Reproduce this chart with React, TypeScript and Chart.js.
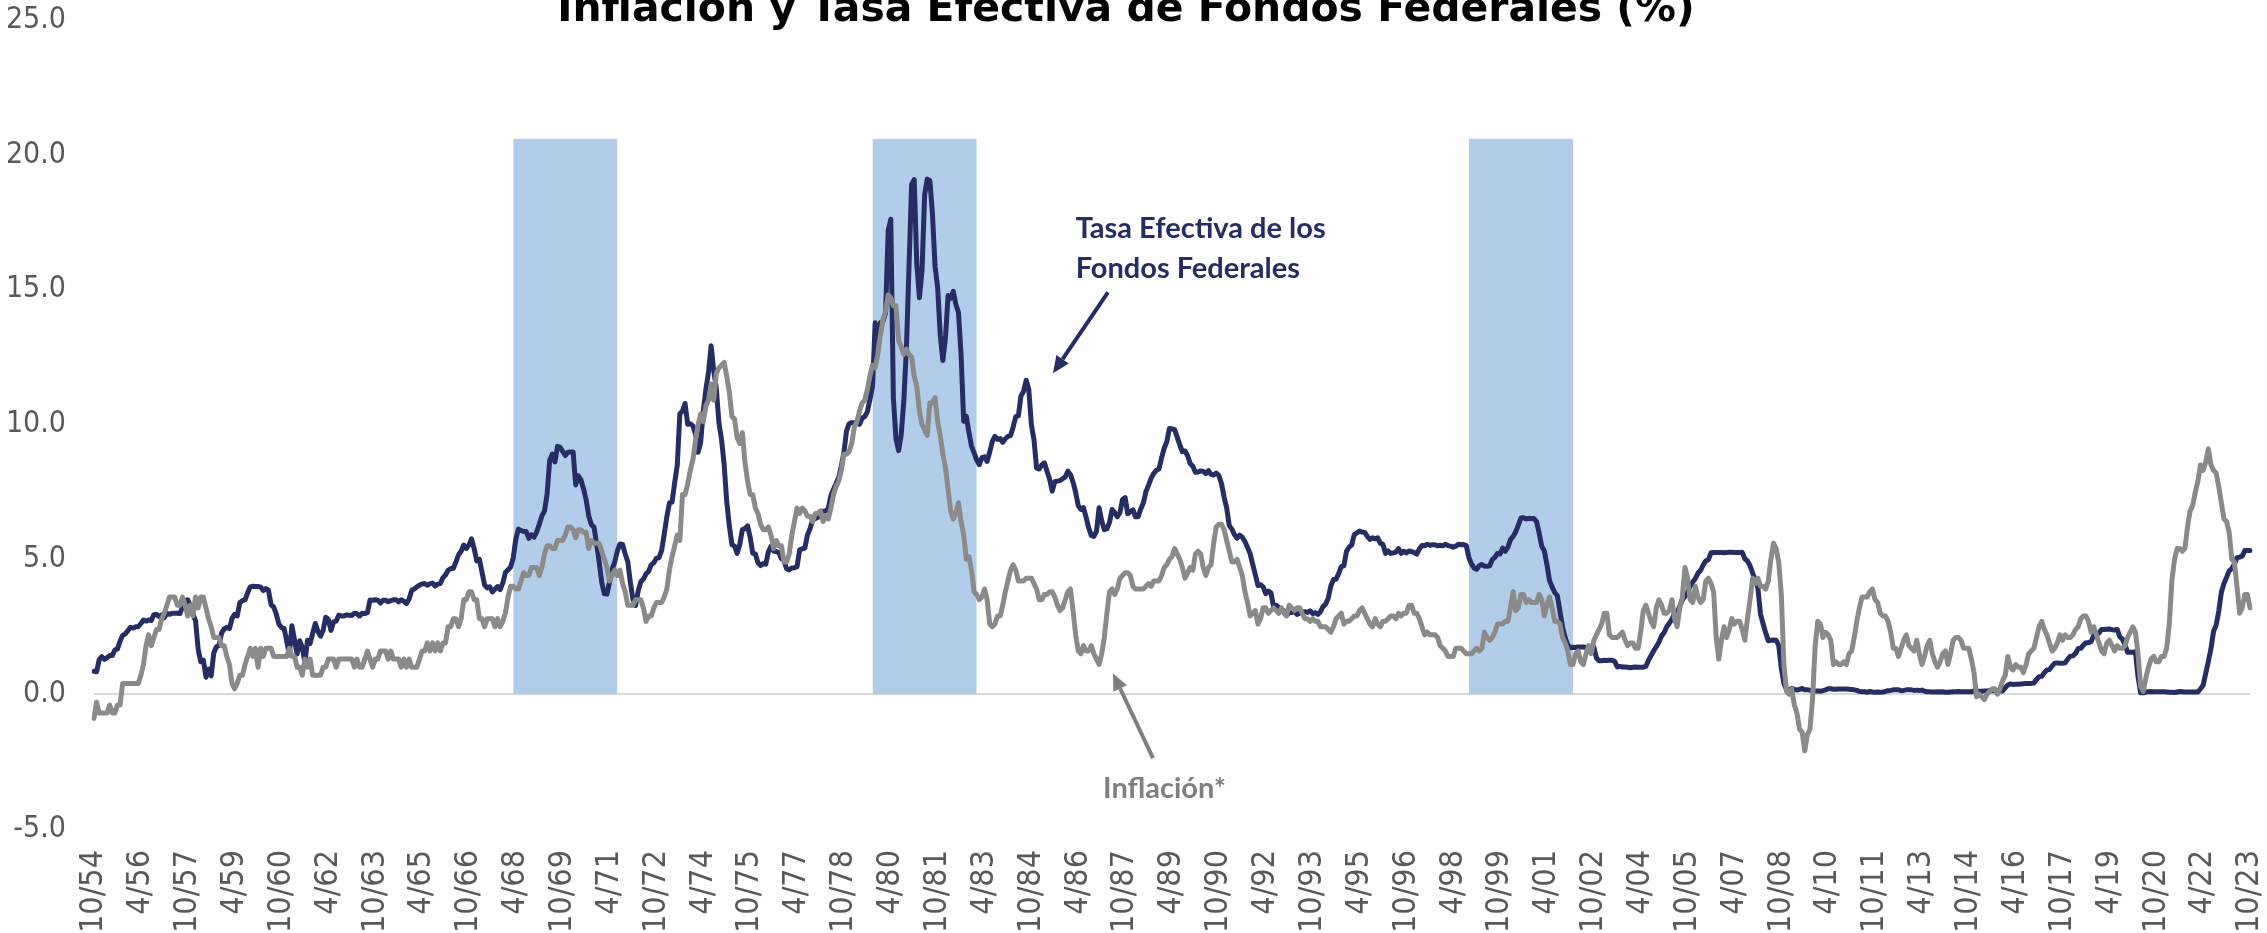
import React, { useEffect, useRef } from 'react';
import { Chart, registerables } from 'chart.js';

Chart.register(...registerables);

// ---- Data (monthly, from 10/54 to 10/23) ----
const START_YEAR = 1954;
const START_MONTH = 10;

// Tasa Efectiva de los Fondos Federales (%)
const fedFunds: number[] = [
  0.85, 0.83, 1.28, // 1954 (Oct-Dec)
  1.39, 1.29, 1.35, 1.43, 1.43, 1.64, 1.68, 1.96, 2.18, 2.24, 2.35, 2.48, // 1955
  2.45, 2.50, 2.50, 2.62, 2.75, 2.71, 2.75, 2.73, 2.95, 2.96, 2.88, 2.94, // 1956
  2.84, 3.00, 2.96, 3.00, 3.00, 3.00, 2.99, 3.24, 3.47, 3.50, 3.28, 2.98, // 1957
  2.72, 1.67, 1.20, 1.26, 0.63, 0.93, 0.68, 1.53, 1.76, 1.80, 2.27, 2.42, // 1958
  2.48, 2.43, 2.80, 2.96, 2.90, 3.39, 3.47, 3.50, 3.76, 3.98, 4.00, 3.99, // 1959
  3.99, 3.97, 3.84, 3.92, 3.85, 3.32, 3.23, 2.98, 2.60, 2.47, 2.44, 1.98, // 1960
  1.45, 2.54, 2.02, 1.49, 1.98, 1.73, 1.17, 2.00, 1.88, 2.26, 2.62, 2.33, // 1961
  2.15, 2.37, 2.85, 2.78, 2.36, 2.68, 2.71, 2.93, 2.90, 2.90, 2.94, 2.93, // 1962
  2.92, 3.00, 2.98, 2.90, 3.00, 2.99, 3.02, 3.49, 3.48, 3.50, 3.48, 3.38, // 1963
  3.48, 3.48, 3.43, 3.47, 3.50, 3.50, 3.42, 3.50, 3.45, 3.36, 3.52, 3.85, // 1964
  3.90, 3.98, 4.04, 4.09, 4.10, 4.04, 4.09, 4.12, 4.01, 4.08, 4.10, 4.32, // 1965
  4.42, 4.60, 4.65, 4.67, 4.90, 5.17, 5.30, 5.53, 5.40, 5.53, 5.76, 5.40, // 1966
  4.94, 5.00, 4.53, 4.05, 3.94, 3.98, 3.79, 3.90, 3.99, 3.88, 4.13, 4.51, // 1967
  4.61, 4.71, 5.05, 5.76, 6.12, 6.07, 6.03, 6.03, 5.78, 5.91, 5.82, 6.02, // 1968
  6.30, 6.61, 6.79, 7.41, 8.67, 8.90, 8.61, 9.19, 9.15, 9.00, 8.85, 8.97, // 1969
  8.98, 8.98, 7.76, 8.10, 7.95, 7.61, 7.21, 6.61, 6.29, 6.20, 5.60, 4.90, // 1970
  4.14, 3.72, 3.71, 4.16, 4.63, 4.91, 5.31, 5.57, 5.55, 5.20, 4.91, 4.14, // 1971
  3.50, 3.29, 3.83, 4.17, 4.27, 4.46, 4.55, 4.80, 4.87, 5.04, 5.06, 5.33, // 1972
  5.94, 6.58, 7.09, 7.12, 7.84, 8.49, 10.40, 10.50, 10.78, 10.01, 10.03, 9.95, // 1973
  9.65, 8.97, 9.35, 10.51, 11.31, 11.93, 12.92, 12.01, 11.34, 10.06, 9.45, 8.53, // 1974
  7.13, 6.24, 5.54, 5.49, 5.22, 5.55, 6.10, 6.14, 6.24, 5.82, 5.22, 5.20, // 1975
  4.87, 4.77, 4.84, 4.82, 5.29, 5.48, 5.31, 5.29, 5.25, 5.03, 4.95, 4.65, // 1976
  4.61, 4.68, 4.69, 4.73, 5.35, 5.39, 5.42, 5.90, 6.14, 6.47, 6.51, 6.56, // 1977
  6.70, 6.78, 6.79, 6.89, 7.36, 7.60, 7.81, 8.04, 8.45, 8.96, 9.76, 10.03, // 1978
  10.07, 10.06, 10.09, 10.01, 10.24, 10.29, 10.47, 10.94, 11.43, 13.77, 13.18, 13.78, // 1979
  13.82, 14.13, 17.19, 17.61, 10.98, 9.47, 9.03, 9.61, 10.87, 12.81, 15.85, 18.90, // 1980
  19.08, 15.93, 14.70, 15.72, 18.52, 19.10, 19.04, 17.82, 15.87, 15.08, 13.31, 12.37, // 1981
  13.22, 14.78, 14.68, 14.94, 14.45, 14.15, 12.59, 10.12, 10.31, 9.71, 9.20, 8.95, // 1982
  8.68, 8.51, 8.77, 8.80, 8.63, 8.98, 9.37, 9.56, 9.45, 9.48, 9.34, 9.47, // 1983
  9.56, 9.59, 9.91, 10.29, 10.32, 11.06, 11.23, 11.64, 11.30, 9.99, 9.43, 8.38, // 1984
  8.35, 8.50, 8.58, 8.27, 7.97, 7.53, 7.88, 7.90, 7.92, 7.99, 8.05, 8.27, // 1985
  8.14, 7.86, 7.48, 6.99, 6.85, 6.92, 6.56, 6.17, 5.89, 5.85, 6.04, 6.91, // 1986
  6.43, 6.10, 6.13, 6.37, 6.85, 6.73, 6.58, 6.73, 7.22, 7.29, 6.69, 6.77, // 1987
  6.83, 6.58, 6.58, 6.87, 7.09, 7.51, 7.75, 8.01, 8.19, 8.30, 8.35, 8.76, // 1988
  9.12, 9.36, 9.85, 9.84, 9.81, 9.53, 9.24, 8.99, 9.02, 8.84, 8.55, 8.45, // 1989
  8.23, 8.24, 8.28, 8.26, 8.18, 8.29, 8.15, 8.13, 8.20, 8.11, 7.81, 7.31, // 1990
  6.91, 6.25, 6.12, 5.91, 5.78, 5.90, 5.82, 5.66, 5.45, 5.21, 4.81, 4.43, // 1991
  4.03, 4.06, 3.98, 3.73, 3.82, 3.76, 3.25, 3.30, 3.22, 3.10, 3.09, 2.92, // 1992
  3.02, 3.03, 3.07, 2.96, 3.00, 3.04, 3.06, 3.03, 3.09, 2.99, 3.02, 2.96, // 1993
  3.05, 3.25, 3.34, 3.56, 4.01, 4.25, 4.26, 4.47, 4.73, 4.76, 5.29, 5.45, // 1994
  5.53, 5.92, 5.98, 6.05, 6.01, 6.00, 5.85, 5.74, 5.80, 5.76, 5.80, 5.60, // 1995
  5.56, 5.22, 5.31, 5.22, 5.24, 5.27, 5.40, 5.22, 5.30, 5.24, 5.31, 5.29, // 1996
  5.25, 5.19, 5.39, 5.51, 5.50, 5.56, 5.52, 5.54, 5.54, 5.50, 5.52, 5.50, // 1997
  5.56, 5.51, 5.49, 5.45, 5.49, 5.56, 5.54, 5.55, 5.51, 5.07, 4.83, 4.68, // 1998
  4.63, 4.76, 4.81, 4.74, 4.74, 4.76, 4.99, 5.07, 5.22, 5.20, 5.42, 5.30, // 1999
  5.45, 5.73, 5.85, 6.02, 6.27, 6.53, 6.54, 6.50, 6.52, 6.51, 6.51, 6.40, // 2000
  5.98, 5.49, 5.31, 4.80, 4.21, 3.97, 3.77, 3.65, 3.07, 2.49, 2.09, 1.82, // 2001
  1.73, 1.74, 1.73, 1.75, 1.75, 1.75, 1.73, 1.74, 1.75, 1.75, 1.34, 1.24, // 2002
  1.24, 1.26, 1.25, 1.26, 1.26, 1.22, 1.01, 1.03, 1.01, 1.01, 1.00, 0.98, // 2003
  1.00, 1.01, 1.00, 1.00, 1.00, 1.03, 1.26, 1.43, 1.61, 1.76, 1.93, 2.16, // 2004
  2.28, 2.50, 2.63, 2.79, 3.00, 3.04, 3.26, 3.50, 3.62, 3.78, 4.00, 4.16, // 2005
  4.29, 4.49, 4.59, 4.79, 4.94, 4.99, 5.24, 5.25, 5.25, 5.25, 5.25, 5.24, // 2006
  5.25, 5.26, 5.26, 5.25, 5.25, 5.25, 5.26, 5.02, 4.94, 4.76, 4.49, 4.24, // 2007
  3.94, 2.98, 2.61, 2.28, 1.98, 2.00, 2.01, 2.00, 1.81, 0.97, 0.39, 0.16, // 2008
  0.15, 0.22, 0.18, 0.15, 0.18, 0.21, 0.16, 0.16, 0.15, 0.12, 0.12, 0.12, // 2009
  0.11, 0.13, 0.16, 0.20, 0.20, 0.18, 0.18, 0.19, 0.19, 0.19, 0.19, 0.18, // 2010
  0.17, 0.16, 0.14, 0.10, 0.09, 0.09, 0.07, 0.10, 0.08, 0.07, 0.08, 0.07, // 2011
  0.08, 0.10, 0.13, 0.14, 0.16, 0.16, 0.16, 0.13, 0.14, 0.16, 0.16, 0.16, // 2012
  0.14, 0.15, 0.14, 0.15, 0.11, 0.09, 0.09, 0.08, 0.08, 0.09, 0.08, 0.09, // 2013
  0.07, 0.07, 0.08, 0.09, 0.09, 0.10, 0.09, 0.09, 0.09, 0.09, 0.09, 0.12, // 2014
  0.11, 0.11, 0.11, 0.12, 0.12, 0.13, 0.13, 0.14, 0.14, 0.12, 0.12, 0.24, // 2015
  0.34, 0.38, 0.36, 0.37, 0.37, 0.38, 0.39, 0.40, 0.40, 0.40, 0.41, 0.54, // 2016
  0.65, 0.66, 0.79, 0.90, 0.91, 1.04, 1.15, 1.16, 1.15, 1.15, 1.16, 1.30, // 2017
  1.41, 1.42, 1.51, 1.69, 1.70, 1.82, 1.91, 1.91, 1.95, 2.19, 2.20, 2.27, // 2018
  2.40, 2.40, 2.41, 2.42, 2.39, 2.38, 2.40, 2.13, 2.04, 1.83, 1.55, 1.55, // 2019
  1.55, 1.58, 0.65, 0.05, 0.05, 0.08, 0.09, 0.10, 0.09, 0.09, 0.09, 0.09, // 2020
  0.09, 0.08, 0.07, 0.07, 0.06, 0.08, 0.10, 0.09, 0.08, 0.08, 0.08, 0.08, // 2021
  0.08, 0.08, 0.20, 0.33, 0.77, 1.21, 1.68, 2.33, 2.56, 3.08, 3.78, 4.10, // 2022
  4.33, 4.57, 4.65, 4.83, 5.06, 5.08, 5.12, 5.33, 5.33, 5.33, // 2023 (Jan-Oct)
];

// Inflación* (variación anual, %)
const inflation: number[] = [
  -0.9, -0.3, -0.7, // 1954 (Oct-Dec)
  -0.7, -0.7, -0.7, -0.4, -0.7, -0.7, -0.4, -0.4, 0.4, 0.4, 0.4, 0.4, // 1955
  0.4, 0.4, 0.4, 0.7, 1.1, 1.8, 2.2, 1.8, 2.1, 2.4, 2.4, 2.8, // 1956
  3.0, 3.3, 3.6, 3.6, 3.6, 3.3, 3.3, 3.6, 3.3, 2.9, 3.3, 2.9, // 1957
  3.6, 3.2, 3.6, 3.6, 3.2, 2.8, 2.5, 2.1, 2.1, 2.1, 1.8, 1.8, // 1958
  1.4, 1.1, 0.4, 0.2, 0.4, 0.7, 0.7, 1.1, 1.4, 1.7, 1.4, 1.7, // 1959
  1.0, 1.7, 1.4, 1.7, 1.7, 1.7, 1.4, 1.4, 1.4, 1.4, 1.4, 1.4, // 1960
  1.7, 1.4, 1.4, 1.0, 1.0, 0.7, 1.3, 1.0, 1.3, 0.7, 0.7, 0.7, // 1961
  0.7, 1.0, 1.0, 1.3, 1.3, 1.3, 1.0, 1.3, 1.3, 1.3, 1.3, 1.3, // 1962
  1.3, 1.0, 1.3, 1.0, 1.0, 1.3, 1.6, 1.3, 1.0, 1.3, 1.3, 1.6, // 1963
  1.6, 1.6, 1.3, 1.6, 1.3, 1.3, 1.3, 1.0, 1.3, 1.0, 1.3, 1.0, // 1964
  1.0, 1.0, 1.3, 1.6, 1.6, 1.9, 1.6, 1.9, 1.6, 1.9, 1.6, 1.9, // 1965
  1.9, 2.5, 2.5, 2.8, 2.8, 2.5, 2.8, 3.5, 3.5, 3.8, 3.8, 3.5, // 1966
  3.5, 2.8, 2.8, 2.5, 2.8, 2.8, 2.8, 2.5, 2.8, 2.5, 2.7, 3.0, // 1967
  3.6, 4.0, 4.0, 3.9, 3.9, 4.2, 4.5, 4.4, 4.4, 4.7, 4.7, 4.7, // 1968
  4.4, 4.7, 5.2, 5.5, 5.5, 5.4, 5.4, 5.7, 5.7, 5.7, 5.9, 6.2, // 1969
  6.2, 6.1, 5.8, 6.1, 6.1, 6.0, 6.0, 5.4, 5.7, 5.6, 5.6, 5.6, // 1970
  5.3, 5.0, 4.7, 4.2, 4.4, 4.6, 4.4, 4.6, 4.1, 3.8, 3.3, 3.3, // 1971
  3.3, 3.5, 3.5, 3.5, 3.2, 2.7, 2.9, 2.9, 3.2, 3.4, 3.4, 3.4, // 1972
  3.6, 3.9, 4.6, 5.1, 5.5, 5.9, 5.7, 7.4, 7.4, 7.8, 8.3, 8.7, // 1973
  9.4, 10.0, 10.4, 10.1, 10.7, 10.9, 11.5, 10.9, 11.9, 12.1, 12.2, 12.3, // 1974
  11.8, 11.2, 10.3, 10.2, 9.5, 9.3, 9.7, 8.6, 7.9, 7.4, 7.4, 6.9, // 1975
  6.7, 6.3, 6.1, 6.1, 6.2, 5.9, 5.4, 5.7, 5.5, 5.5, 4.9, 4.9, // 1976
  5.2, 5.9, 6.4, 6.9, 6.7, 6.9, 6.8, 6.6, 6.6, 6.4, 6.7, 6.7, // 1977
  6.8, 6.4, 6.6, 6.5, 6.9, 7.4, 7.7, 7.9, 8.3, 8.9, 8.9, 9.0, // 1978
  9.3, 9.9, 10.1, 10.5, 10.8, 10.9, 11.3, 11.8, 12.2, 12.1, 12.6, 13.3, // 1979
  13.9, 14.2, 14.8, 14.7, 14.4, 14.4, 13.1, 12.9, 12.6, 12.8, 12.6, 12.5, // 1980
  11.8, 11.4, 10.5, 10.0, 9.8, 9.6, 10.8, 10.8, 11.0, 10.1, 9.6, 8.9, // 1981
  8.4, 7.6, 6.8, 6.5, 6.7, 7.1, 6.4, 5.9, 5.0, 5.1, 4.6, 3.8, // 1982
  3.7, 3.5, 3.6, 3.9, 3.5, 2.6, 2.5, 2.6, 2.9, 2.9, 3.3, 3.8, // 1983
  4.2, 4.6, 4.8, 4.6, 4.2, 4.2, 4.2, 4.3, 4.3, 4.3, 4.1, 3.9, // 1984
  3.5, 3.5, 3.7, 3.7, 3.8, 3.8, 3.6, 3.3, 3.1, 3.2, 3.5, 3.8, // 1985
  3.9, 3.1, 2.2, 1.6, 1.5, 1.8, 1.6, 1.6, 1.8, 1.5, 1.3, 1.1, // 1986
  1.5, 2.1, 3.0, 3.8, 3.9, 3.7, 3.9, 4.3, 4.4, 4.5, 4.5, 4.4, // 1987
  4.0, 3.9, 3.9, 3.9, 3.9, 4.0, 4.1, 4.0, 4.2, 4.2, 4.2, 4.4, // 1988
  4.7, 4.8, 5.0, 5.1, 5.4, 5.2, 5.0, 4.7, 4.3, 4.5, 4.7, 4.6, // 1989
  5.2, 5.3, 5.2, 4.7, 4.4, 4.7, 4.8, 5.6, 6.2, 6.3, 6.3, 6.1, // 1990
  5.7, 5.3, 4.9, 4.9, 5.0, 4.7, 4.4, 3.8, 3.4, 2.9, 3.0, 3.1, // 1991
  2.6, 2.8, 3.2, 3.2, 3.0, 3.1, 3.2, 3.1, 3.0, 3.2, 3.0, 2.9, // 1992
  3.3, 3.2, 3.1, 3.2, 3.2, 3.0, 2.8, 2.8, 2.7, 2.8, 2.7, 2.7, // 1993
  2.5, 2.5, 2.5, 2.4, 2.3, 2.5, 2.8, 2.9, 3.0, 2.6, 2.7, 2.7, // 1994
  2.8, 2.9, 2.9, 3.1, 3.2, 3.0, 2.8, 2.6, 2.5, 2.8, 2.6, 2.5, // 1995
  2.7, 2.7, 2.8, 2.9, 2.9, 2.8, 3.0, 2.9, 3.0, 3.0, 3.3, 3.3, // 1996
  3.0, 3.0, 2.8, 2.5, 2.2, 2.3, 2.2, 2.2, 2.2, 2.1, 1.8, 1.7, // 1997
  1.6, 1.4, 1.4, 1.4, 1.7, 1.7, 1.7, 1.6, 1.5, 1.5, 1.5, 1.6, // 1998
  1.7, 1.6, 1.7, 2.3, 2.1, 2.0, 2.1, 2.3, 2.6, 2.6, 2.6, 2.7, // 1999
  2.7, 3.2, 3.8, 3.1, 3.2, 3.7, 3.7, 3.4, 3.5, 3.4, 3.4, 3.4, // 2000
  3.7, 3.5, 2.9, 3.3, 3.6, 3.2, 2.7, 2.7, 2.6, 2.1, 1.9, 1.6, // 2001
  1.1, 1.1, 1.5, 1.6, 1.2, 1.1, 1.5, 1.8, 1.5, 2.0, 2.2, 2.4, // 2002
  2.6, 3.0, 3.0, 2.2, 2.1, 2.1, 2.1, 2.2, 2.3, 2.0, 1.8, 1.9, // 2003
  1.9, 1.7, 1.7, 2.3, 3.1, 3.3, 3.0, 2.7, 2.5, 3.2, 3.5, 3.3, // 2004
  3.0, 3.0, 3.1, 3.5, 2.8, 2.5, 3.2, 3.6, 4.7, 4.3, 3.5, 3.4, // 2005
  4.0, 3.6, 3.4, 3.5, 4.2, 4.3, 4.1, 3.8, 2.1, 1.3, 2.0, 2.5, // 2006
  2.1, 2.4, 2.8, 2.6, 2.7, 2.7, 2.4, 2.0, 2.8, 3.5, 4.3, 4.1, // 2007
  4.3, 4.0, 4.0, 3.9, 4.2, 5.0, 5.6, 5.4, 4.9, 3.7, 1.1, 0.1, // 2008
  0.0, 0.2, -0.4, -0.7, -1.3, -1.4, -2.1, -1.5, -1.3, -0.2, 1.8, 2.7, // 2009
  2.6, 2.1, 2.3, 2.2, 2.0, 1.1, 1.2, 1.1, 1.1, 1.2, 1.1, 1.5, // 2010
  1.6, 2.1, 2.7, 3.2, 3.6, 3.6, 3.6, 3.8, 3.9, 3.5, 3.4, 3.0, // 2011
  2.9, 2.9, 2.7, 2.3, 1.7, 1.7, 1.4, 1.7, 2.0, 2.2, 1.8, 1.7, // 2012
  1.6, 2.0, 1.5, 1.1, 1.4, 1.8, 2.0, 1.5, 1.2, 1.0, 1.2, 1.5, // 2013
  1.6, 1.1, 1.5, 2.0, 2.1, 2.1, 2.0, 1.7, 1.7, 1.7, 1.3, 0.8, // 2014
  -0.1, 0.0, -0.1, -0.2, 0.0, 0.1, 0.2, 0.2, 0.0, 0.2, 0.5, 0.7, // 2015
  1.4, 1.0, 0.9, 1.1, 1.0, 1.0, 0.8, 1.1, 1.5, 1.6, 1.7, 2.1, // 2016
  2.5, 2.7, 2.4, 2.2, 1.9, 1.6, 1.7, 1.9, 2.2, 2.0, 2.2, 2.1, // 2017
  2.1, 2.2, 2.4, 2.5, 2.8, 2.9, 2.9, 2.7, 2.3, 2.5, 2.2, 1.9, // 2018
  1.6, 1.5, 1.9, 2.0, 1.8, 1.6, 1.8, 1.7, 1.7, 1.8, 2.1, 2.3, // 2019
  2.5, 2.3, 1.5, 0.3, 0.1, 0.6, 1.0, 1.3, 1.4, 1.2, 1.2, 1.4, // 2020
  1.4, 1.7, 2.6, 4.2, 5.0, 5.4, 5.4, 5.3, 5.4, 6.2, 6.8, 7.0, // 2021
  7.5, 7.9, 8.5, 8.3, 8.6, 9.1, 8.5, 8.3, 8.2, 7.7, 7.1, 6.5, // 2022
  6.4, 6.0, 5.0, 4.9, 4.0, 3.0, 3.2, 3.7, 3.7, 3.2, // 2023 (Jan-Oct)
];

// Shaded periods (month labels, inclusive) and their height
const shadedStart: string[] = ['3/68', '9/79', '10/98'];
const shadedEnd: string[] = ['7/71', '1/83', '2/02'];
const shadedTop = 20.6;

// Axis
const yMin = -5;
const yMax = 25;
const yStep = 5;
const labelEvery = 18;

// Text
const titleText = 'Inflación y Tasa Efectiva de Fondos Federales (%)';
const ffLabelLines: string[] = ['Tasa Efectiva de los', 'Fondos Federales'];
const inflLabelLines: string[] = ['Inflación*'];

// Month labels "m/yy"
const labels: string[] = fedFunds.map((_, i) => {
  const k = START_MONTH - 1 + i;
  const m = (k % 12) + 1;
  const yr = (START_YEAR + Math.floor(k / 12)) % 100;
  return `${m}/${String(yr).padStart(2, '0')}`;
});

const bandRanges = shadedStart.map((s, j) => [labels.indexOf(s), labels.indexOf(shadedEnd[j])]);
const bandData: (number | null)[] = labels.map((_, i) =>
  bandRanges.some(([a, b]) => i >= a && i <= b) ? shadedTop : null
);

const NAVY = '#252d63';
const GRAY = '#8a8a8a';
const BAND = '#b1cde9';
const TICK_COLOR = '#595959';
const TICK_FONT = "'Liberation Sans Narrow', 'DejaVu Sans Condensed', 'Liberation Sans', sans-serif";
const NOTE_FONT = "Lato, 'Open Sans', sans-serif";

// Annotation anchors in data coordinates (category index, value)
const ffNote = { x: 377, baselines: [16.92, 15.44], from: [389.4, 14.9], to: [368.3, 11.9] };
const inflNote = { x: 387.5, baselines: [-3.86], from: [406.7, -2.37], to: [391.3, 0.78] };

function drawArrow(ctx: CanvasRenderingContext2D, x1: number, y1: number, x2: number, y2: number, color: string) {
  const ang = Math.atan2(y2 - y1, x2 - x1);
  const headLen = 17;
  const headW = 15;
  const bx = x2 - headLen * Math.cos(ang);
  const by = y2 - headLen * Math.sin(ang);
  ctx.save();
  ctx.strokeStyle = color;
  ctx.fillStyle = color;
  ctx.lineWidth = 4;
  ctx.beginPath();
  ctx.moveTo(x1, y1);
  ctx.lineTo(bx, by);
  ctx.stroke();
  ctx.beginPath();
  ctx.moveTo(x2, y2);
  ctx.lineTo(bx + (headW / 2) * Math.sin(ang), by - (headW / 2) * Math.cos(ang));
  ctx.lineTo(bx - (headW / 2) * Math.sin(ang), by + (headW / 2) * Math.cos(ang));
  ctx.closePath();
  ctx.fill();
  ctx.restore();
}

const overlayPlugin = {
  id: 'overlay',
  afterDraw(chart: any) {
    const { ctx } = chart;
    const xs = chart.scales.x;
    const ys = chart.scales.y;
    const px = (v: number) => xs.getPixelForValue(v);
    const py = (v: number) => ys.getPixelForValue(v);

    // Title (its top falls outside the page, as in the reference)
    ctx.save();
    ctx.fillStyle = '#000000';
    ctx.textAlign = 'center';
    ctx.textBaseline = 'alphabetic';
    ctx.font = "bold 40px 'DejaVu Sans', sans-serif";
    const w = ctx.measureText(titleText).width;
    const size = (40 * 1138) / w;
    ctx.font = `bold ${size}px 'DejaVu Sans', sans-serif`;
    ctx.fillText(titleText, 1126, 21);
    ctx.restore();

    // Notes
    ctx.save();
    ctx.font = `bold 29px ${NOTE_FONT}`;
    ctx.fillStyle = NAVY;
    ctx.textAlign = 'left';
    ctx.textBaseline = 'alphabetic';
    ffLabelLines.forEach((t, i) => ctx.fillText(t, px(ffNote.x), py(ffNote.baselines[i])));
    ctx.fillStyle = '#7f7f7f';
    inflLabelLines.forEach((t, i) => ctx.fillText(t, px(inflNote.x), py(inflNote.baselines[i])));
    ctx.restore();

    drawArrow(ctx, px(ffNote.from[0]), py(ffNote.from[1]), px(ffNote.to[0]), py(ffNote.to[1]), NAVY);
    drawArrow(ctx, px(inflNote.from[0]), py(inflNote.from[1]), px(inflNote.to[0]), py(inflNote.to[1]), '#7f7f7f');
  },
};

export default function App() {
  const canvasRef = useRef<HTMLCanvasElement | null>(null);

  useEffect(() => {
    const canvas = canvasRef.current;
    if (!canvas) return;
    const chart = new Chart(canvas, {
      type: 'line',
      data: {
        labels,
        datasets: [
          {
            label: 'Inflación*',
            data: inflation,
            borderColor: GRAY,
            borderWidth: 5,
            pointRadius: 0,
            borderJoinStyle: 'round',
            borderCapStyle: 'round',
            tension: 0,
            fill: false,
            order: 1,
          },
          {
            label: 'Tasa Efectiva de los Fondos Federales',
            data: fedFunds,
            borderColor: NAVY,
            borderWidth: 5,
            pointRadius: 0,
            borderJoinStyle: 'round',
            borderCapStyle: 'round',
            tension: 0,
            fill: false,
            order: 2,
          },
          {
            label: 'Periodos',
            data: bandData,
            borderWidth: 0,
            borderColor: 'rgba(0,0,0,0)',
            backgroundColor: BAND,
            pointRadius: 0,
            spanGaps: false,
            fill: 'origin',
            tension: 0,
            order: 3,
          },
        ],
      } as any,
      options: {
        animation: false,
        responsive: false,
        devicePixelRatio: 1,
        layout: { padding: { top: 20, right: 17, left: 0, bottom: 0 } },
        plugins: {
          legend: { display: false },
          tooltip: { enabled: false },
          title: { display: false },
        },
        scales: {
          x: {
            type: 'category',
            offset: false,
            grid: { display: false, drawTicks: false },
            border: { display: false },
            afterFit: (scale: any) => {
              scale.height = 104;
              scale.paddingLeft = 0;
              scale.paddingRight = 0;
            },
            ticks: {
              autoSkip: false,
              minRotation: 90,
              maxRotation: 90,
              padding: 21,
              color: TICK_COLOR,
              font: { family: TICK_FONT, size: 32 },
              callback: (_v: any, i: number) => (i % labelEvery === 0 ? labels[i] : ''),
            },
          },
          y: {
            type: 'linear',
            min: yMin,
            max: yMax,
            afterFit: (scale: any) => {
              scale.width = 94;
              scale.paddingTop = 0;
              scale.paddingBottom = 0;
            },
            grid: {
              drawTicks: false,
              color: (c: any) => (c.tick && c.tick.value === 0 ? '#d9d9d9' : 'rgba(0,0,0,0)'),
              lineWidth: 2,
            },
            border: { display: false },
            ticks: {
              stepSize: yStep,
              padding: 28,
              color: TICK_COLOR,
              font: { family: TICK_FONT, size: 30 },
              callback: (v: any) => Number(v).toFixed(1),
            },
          },
        },
      } as any,
      plugins: [overlayPlugin],
    });
    return () => chart.destroy();
  }, []);

  return (
    <div style={{ position: 'fixed', left: 0, top: 0, width: 2267, height: 933, background: '#ffffff' }}>
      <canvas ref={canvasRef} width={2267} height={933} style={{ display: 'block' }} />
    </div>
  );
}
